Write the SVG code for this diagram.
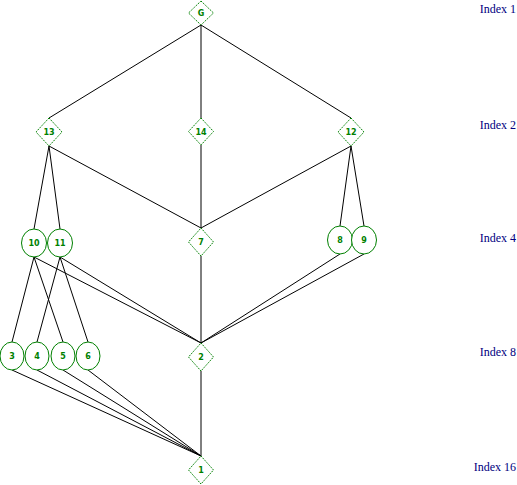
<svg xmlns="http://www.w3.org/2000/svg" width="517" height="485" viewBox="0 0 517 485">
<style>
.bg{fill:#fff}
.e{stroke:#000;stroke-width:1;fill:none}
.d{fill:#fff;stroke:#008000;stroke-width:1;stroke-dasharray:1.5,1}
.c{fill:#fff;stroke:#008000;stroke-width:1}
.t{font-family:"DejaVu Sans",sans-serif;font-size:8px;font-weight:bold;fill:#008000;text-anchor:middle}
.ix{font-family:"Liberation Serif",serif;font-size:12px;fill:#000080;text-anchor:end}
</style>
<rect class="bg" x="0" y="0" width="517" height="485"/>
<g id="connectors">
<path class="e" d="M201,25 L49,118 M201,25 L201,118 M201,25 L351,118"/>
<path class="e" d="M49,146 L34,229 M49,146 L60,229 M49,146 L201,228"/>
<path class="e" d="M201,145 L201,228"/>
<path class="e" d="M351,146 L340,226 M351,146 L364,226 M351,146 L201,228"/>
<path class="e" d="M34,257 L12,342 M34,257 L63,342 M34,257 L201,343"/>
<path class="e" d="M60,257 L37,342 M60,257 L88,342 M60,257 L201,343"/>
<path class="e" d="M201,256 L201,343 M340,254 L201,343 M364,254 L201,343"/>
<path class="e" d="M12,370 L201,456 M37,370 L201,456 M63,370 L201,456 M88,370 L201,456 M201,371 L201,456"/>
</g>
<g id="nG"><path class="d" d="M201,1 L213.5,13 L201,25 L188.5,13 Z"/><text class="t" x="201" y="16">G</text></g>
<g id="n13"><path class="d" d="M49,118 L62,132 L49,146 L36,132 Z"/><text class="t" x="49" y="135">13</text></g>
<g id="n14"><path class="d" d="M201,118 L213.5,131.5 L201,145 L188.5,131.5 Z"/><text class="t" x="201" y="134.5">14</text></g>
<g id="n12"><path class="d" d="M351,118 L364,132 L351,146 L338,132 Z"/><text class="t" x="351" y="135">12</text></g>
<g id="n10"><ellipse class="c" cx="34" cy="243" rx="12.5" ry="14"/><text class="t" x="34" y="246">10</text></g>
<g id="n11"><ellipse class="c" cx="60" cy="243" rx="12.5" ry="14"/><text class="t" x="60" y="246">11</text></g>
<g id="n7"><path class="d" d="M201,228 L213.5,242 L201,256 L188.5,242 Z"/><text class="t" x="201" y="245">7</text></g>
<g id="n8"><ellipse class="c" cx="340" cy="240" rx="12.5" ry="14"/><text class="t" x="340" y="243">8</text></g>
<g id="n9"><ellipse class="c" cx="364" cy="240" rx="12.5" ry="14"/><text class="t" x="364" y="243">9</text></g>
<g id="n3"><ellipse class="c" cx="12" cy="356" rx="12" ry="14"/><text class="t" x="12" y="359">3</text></g>
<g id="n4"><ellipse class="c" cx="37" cy="356" rx="12" ry="14"/><text class="t" x="37" y="359">4</text></g>
<g id="n5"><ellipse class="c" cx="63" cy="356" rx="12" ry="14"/><text class="t" x="63" y="359">5</text></g>
<g id="n6"><ellipse class="c" cx="88" cy="356" rx="12" ry="14"/><text class="t" x="88" y="359">6</text></g>
<g id="n2"><path class="d" d="M201,343 L213.5,357 L201,371 L188.5,357 Z"/><text class="t" x="201" y="360">2</text></g>
<g id="n1"><path class="d" d="M201,456 L213.5,470 L201,484 L188.5,470 Z"/><text class="t" x="201" y="473">1</text></g>
<g id="index">
<text class="ix" x="516" y="13">Index 1</text>
<text class="ix" x="516" y="129">Index 2</text>
<text class="ix" x="516" y="242">Index 4</text>
<text class="ix" x="516" y="356">Index 8</text>
<text class="ix" x="516" y="471">Index 16</text>
</g>
</svg>
